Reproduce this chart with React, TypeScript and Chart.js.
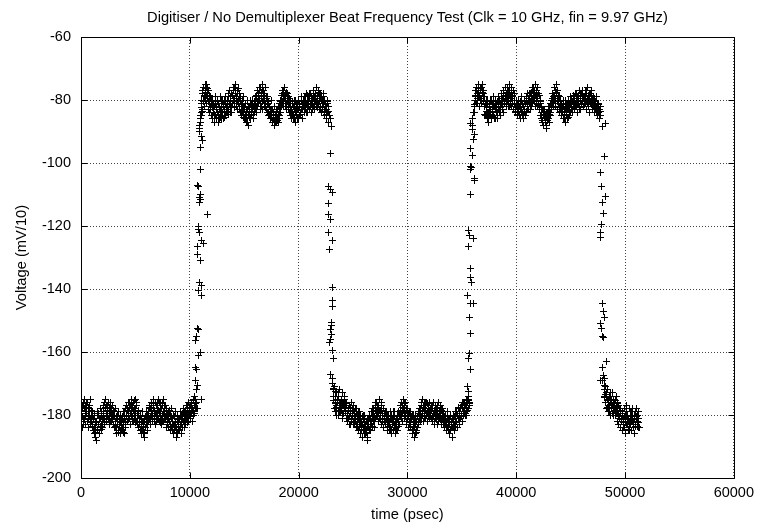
import React, { useEffect, useRef } from "react";
import { Chart, registerables } from "chart.js";

Chart.register(...registerables);

const TITLE = "Digitiser / No Demultiplexer Beat Frequency Test (Clk = 10 GHz, fin = 9.97 GHz)";
const X_LABEL = "time (psec)";
const Y_LABEL = "Voltage (mV/10)";
const X_TICKS = [0, 10000, 20000, 30000, 40000, 50000, 60000];
const Y_TICKS = [-200, -180, -160, -140, -120, -100, -80, -60];

// sample period of each interleaved record (psec); the second record is offset by half a period
const SAMPLE_STEP = 50;
const INTERLEAVE_OFFSET = 25;

// low level, first segment
const LOW_A_START = 0;
const LOW_A = [
  -181, -178.5, -177, -180.5, -183, -176.5, -178, -181.5, -180, -177.5, -176, -179.5,
  -182, -177.5, -179, -180.5, -177, -182.5, -181, -178.5, -180, -183.5,
  -180, -181.5, -184, -179.5, -182, -185.5, -188, -182.5, -180, -184.5, -183, -179.5,
  -186, -183.5, -181, -184.5, -179, -181.5, -182, -179.5,
  -178, -182.5, -181, -177.5, -177, -180.5, -180, -178.5, -176, -181.5, -179, -177.5,
  -182, -179.5, -178, -181.5, -180, -178.5, -183, -180.5,
  -179, -183.5, -182, -180.5, -184, -181.5, -180, -185.5, -183, -181.5, -185, -182.5,
  -181, -184.5, -184, -180.5, -182, -185.5, -179, -182.5, -183, -180.5, -180, -178.5,
  -178, -181.5, -181, -177.5, -176, -179.5, -179, -176.5, -177, -180.5, -182, -178.5,
  -178, -175.5, -180, -182.5, -176, -179.5, -181, -178.5,
  -180, -182.5, -183, -180.5, -185, -183.5, -181, -184.5, -186, -182.5, -182, -185.5,
  -184, -180.5, -179, -182.5, -183, -181.5, -180, -177.5,
  -178, -180.5, -181, -177.5, -176, -179.5, -180, -176.5, -178, -181.5, -182, -179.5,
  -177, -180.5, -179, -176.5, -181, -178.5, -176, -179.5, -180, -182.5, -178, -176.5,
  -182, -179.5, -179, -181.5, -177, -180.5, -181, -178.5, -180, -182.5,
  -179, -181.5, -182, -178.5, -180, -183.5, -184, -180.5, -181, -184.5, -183, -180.5,
  -185, -182.5, -182, -185.5, -184, -181.5, -186, -183.5, -181, -184.5, -183, -180.5,
  -180, -182.5, -184, -181.5, -182, -179.5, -179, -182.5, -181, -178.5,
  -180, -182.5, -177, -179.5, -181, -177.5, -178, -180.5, -180, -177.5, -176, -178.5,
  -179, -175.5, -177, -179.5, -175, -176.5, -178,
];
const LOW_A_MID = [
  -176, -182, -178, -184, -177, -181, -175, -180, -183, -177, -179, -182, -176, -181, -184, -178, -180, -175, -182, -179,
  -183, -179, -185, -181, -186, -180, -184, -187, -182, -179, -185, -183, -180, -186, -181, -184, -178, -183, -180, -184,
  -177, -181, -176, -183, -178, -175, -180, -182, -177, -179, -176, -181, -183, -178, -176, -180, -182, -177, -181, -183,
  -180, -184, -178, -183, -181, -186, -180, -183, -185, -179, -184, -182, -186, -180, -183, -185, -181, -179, -184, -186,
  -181, -178, -184, -180, -177, -182, -179, -176, -181, -178, -183, -177, -175, -180, -178, -182, -176, -179, -181, -175,
  -178, -182, -177, -181, -183, -179, -184, -181, -185, -180, -183, -186, -182, -179, -185, -183, -187, -181, -184, -180,
  -183, -180, -185, -179, -182, -177, -181, -178, -183, -176, -180, -182, -177, -175, -181, -179, -183, -176, -180, -182,
  -177, -181, -175, -179, -182, -178, -176, -181, -183, -177, -180, -175, -182, -179, -177, -181, -184, -178, -180, -183,
  -180, -184, -179, -182, -185, -181, -178, -184, -182, -186, -180, -183, -185, -179, -184, -187, -182, -180, -185, -183,
  -185, -181, -184, -179, -183, -186, -180, -182, -178, -184, -181, -179, -183, -177, -181, -180, -178, -182, -176, -180,
  -181, -177, -179, -176, -182, -178, -175, -180, -177, -174, -178, -176,
];

// high level, first segment
const HIGH_B_START = 11000;
const HIGH_B = [
  -85, -82.5, -81, -83.5, -78, -80.5, -76, -78.5, -80, -77.5, -75, -78.5, -79, -76.5, -77, -80.5, -81, -78.5, -83, -81.5,
  -80, -82.5, -85, -81.5, -82, -84.5, -86, -81.5, -79, -82.5, -84, -80.5, -81, -84.5, -86, -82.5, -83, -85.5,
  -80, -83.5, -85, -80.5, -82, -85.5, -84, -81.5, -80, -83.5, -83, -80.5,
  -82, -84.5, -79, -81.5, -84, -80.5, -78, -82.5, -81, -78.5, -76, -79.5, -80, -82.5, -77, -79.5,
  -82, -80.5, -78, -76.5, -81, -79.5, -83, -80.5,
  -80, -83.5, -84, -81.5, -82, -85.5, -86, -82.5, -81, -84.5, -85, -83.5, -87, -84.5,
  -82, -85.5, -84, -81.5, -80, -83.5, -85, -82.5, -81, -84.5, -83, -80.5,
  -79, -81.5, -82, -78.5, -77, -80.5, -80, -78.5, -76, -79.5, -81, -77.5, -78, -80.5,
  -83, -78.5, -77, -79.5, -80, -82.5, -82, -79.5, -79, -81.5, -84, -80.5,
  -82, -84.5, -86, -83.5, -83, -85.5, -87, -84.5, -84, -86.5, -82, -85.5, -87, -83.5,
  -85, -86.5, -83, -84.5, -86, -82.5, -82, -80.5,
  -80, -78.5, -77, -80.5, -82, -78.5, -76, -80.5, -79, -77.5, -83, -80.5, -78, -82.5, -81, -79.5, -84, -82.5,
  -81, -83.5, -85, -80.5, -82, -84.5, -86, -82.5, -80, -83.5, -84, -81.5, -83, -85.5, -86, -82.5,
  -81, -84.5, -84, -80.5, -80, -82.5, -83, -81.5,
  -82, -80.5, -79, -82.5, -84, -81.5, -80, -78.5, -82, -80.5, -78, -81.5, -81, -79.5, -79, -82.5,
  -83, -79.5, -78, -81.5, -80, -78.5, -82, -80.5, -79, -82.5, -81, -77.5, -78, -80.5, -83, -79.5,
  -80, -82.5, -82, -80.5, -79, -83.5, -84, -81.5, -81, -84.5, -83, -80.5, -80, -83.5, -85,
];
const HIGH_B_MID = [
  -86, -80, -83, -77, -80, -76, -79, -82, -75, -78, -81, -76, -79, -83, -77, -80, -84, -79, -82, -85,
  -81, -86, -80, -84, -87, -82, -79, -85, -83, -86, -80, -84, -81, -87, -83, -79, -85, -82, -86, -80,
  -84, -81, -86, -80, -83, -85, -79, -82, -84, -80, -78, -83, -81, -77, -82, -79, -84, -78, -81, -77,
  -80, -76, -82, -78, -75, -81, -79, -83, -77, -80, -82, -78, -84, -79, -81, -85, -80, -83, -79, -84,
  -82, -86, -81, -84, -87, -83, -80, -85, -88, -82, -84, -86, -81, -85, -83, -80, -86, -82, -84, -81,
  -83, -80, -84, -79, -82, -78, -81, -77, -80, -83, -76, -79, -82, -77, -75, -80, -78, -82, -76, -81,
  -79, -83, -80, -84, -81, -85, -82, -86, -83, -80, -85, -87, -83, -86, -84, -88, -82, -85, -87, -84,
  -86, -83, -87, -82, -85, -81, -84, -80, -82, -78, -81, -77, -80, -76, -79, -82, -78, -81, -83, -79,
  -82, -79, -84, -81, -85, -80, -83, -86, -81, -84, -82, -86, -80, -84, -87, -82, -85, -81, -86, -83,
  -80, -85, -82, -84, -79, -83, -81, -86, -80, -82, -84, -79, -83, -80, -78, -82, -84, -79, -81, -83,
  -79, -82, -78, -81, -84, -80, -77, -82, -79, -83, -78, -80, -76, -82, -79, -81, -77, -83, -80, -78,
  -82, -79, -84, -80, -83, -78, -81, -85, -80, -83, -82, -86, -81, -84, -82, -87,
];

// low level, second segment
const LOW_C_START = 23200;
const LOW_C = [
  -172, -175.5, -178, -176.5, -174, -177.5, -180, -175.5, -176, -178.5, -173, -176.5,
  -179, -177.5, -175, -178.5, -181, -176.5, -177, -179.5, -174, -177.5, -179, -176.5,
  -177, -179.5, -181, -178.5, -178, -180.5, -183, -177.5, -179, -181.5, -176, -179.5,
  -182, -178.5, -180, -182.5, -178, -180.5, -183, -179.5, -181, -183.5, -179, -181.5, -184, -182.5,
  -181, -183.5, -185, -180.5, -183, -184.5, -180, -182.5, -186, -183.5, -182, -185.5,
  -187, -183.5, -184, -181.5, -181, -184.5, -185, -181.5, -182, -183.5, -180, -181.5,
  -178, -180.5, -182, -178.5, -176, -179.5, -180, -177.5, -177, -179.5, -181, -178.5,
  -179, -181.5, -176, -178.5, -182, -179.5, -178, -181.5, -180, -182.5,
  -182, -180.5, -179, -182.5, -184, -180.5, -181, -183.5, -185, -181.5, -180, -184.5,
  -183, -181.5, -179, -182.5, -184, -180.5, -182, -184.5, -185, -181.5, -181, -183.5, -183, -180.5,
  -180, -178.5, -177, -179.5, -181, -177.5, -175, -178.5, -179, -176.5, -176, -180.5,
  -182, -178.5, -178, -181.5, -180, -182.5,
  -179, -181.5, -183, -180.5, -181, -184.5, -185, -182.5, -180, -183.5, -186, -182.5,
  -182, -185.5, -184, -180.5, -179, -182.5, -181, -179.5,
  -178, -180.5, -176, -178.5, -180, -177.5, -177, -179.5, -181, -178.5, -176, -179.5,
  -179, -176.5, -177, -180.5, -180, -178.5,
  -178, -180.5, -181, -178.5, -177, -180.5, -180, -178.5, -182, -179.5, -178, -181.5,
  -180, -177.5, -177, -180.5, -182, -179.5, -179, -181.5, -181, -178.5, -178, -181.5,
  -180, -182.5, -183, -180.5, -181, -183.5, -184, -181.5, -179, -183.5, -185, -181.5,
  -182, -184.5, -180, -182.5, -184, -181.5, -181, -183.5, -183, -180.5, -179, -182.5,
  -182, -179.5, -180, -177.5, -178, -180.5,
  -181, -177.5, -178, -180.5, -180, -177.5, -176, -179.5, -179, -176.5, -177, -179.5,
  -180, -177.5, -175, -178.5, -178, -175.5, -176,
];
const LOW_C_MID = [
  -174, -178, -171, -176, -179, -173, -177, -175, -180, -174, -178, -172, -176, -179, -175, -177, -173, -180, -176, -178,
  -175, -179, -177, -181, -176, -180, -182, -178, -181, -177, -183, -179, -176, -182, -180, -178, -183, -177, -181, -179,
  -182, -178, -184, -180, -183, -181, -185, -179, -183, -186, -180, -184, -182, -187, -181, -184, -180, -185, -183, -186,
  -182, -185, -181, -188, -183, -180, -185, -182, -184, -179, -183, -181, -178, -182, -180, -184, -177, -181, -179, -176,
  -180, -177, -182, -178, -175, -181, -179, -183, -177, -180, -182, -178, -184, -180, -182, -179, -183, -181, -185, -180,
  -183, -180, -185, -182, -179, -184, -181, -186, -182, -180, -185, -183, -179, -184, -186, -181, -183, -185, -180, -182,
  -179, -183, -180, -177, -181, -176, -179, -182, -175, -178, -181, -177, -180, -183, -178, -181, -179, -184, -180, -182,
  -183, -179, -184, -181, -186, -180, -183, -185, -181, -187, -183, -180, -185, -182, -184, -179, -183, -181, -178, -182,
  -180, -177, -181, -175, -179, -182, -176, -178, -181, -177, -180, -176, -179, -182, -178, -180, -176, -181, -179, -177,
  -181, -178, -182, -176, -180, -183, -179, -177, -181, -178, -183, -180, -176, -182, -179, -181, -177, -180, -183, -178,
  -180, -182, -179, -184, -181, -183, -180, -185, -182, -179, -184, -181, -186, -183, -180, -185, -182, -184, -187, -181,
  -183, -180, -185, -181, -184, -179, -182, -180, -184, -178, -181, -183, -179, -181, -177, -180, -182, -178, -180, -176,
  -179, -176, -180, -177, -175, -179, -176, -178, -174, -177,
];

// high level, second segment
const HIGH_D_START = 36150;
const HIGH_D = [
  -84, -81.5, -80, -78.5, -77, -79.5, -81, -77.5, -75, -78.5, -79, -76.5, -76, -79.5, -80, -77.5, -78, -80.5,
  -82, -84.5, -85, -81.5, -80, -83.5, -84, -81.5, -86, -82.5, -81, -84.5, -83, -80.5, -80, -83.5,
  -85, -81.5, -82, -85.5, -86, -82.5, -81, -83.5, -84, -80.5, -80, -82.5, -83, -80.5, -81, -82.5,
  -80, -81.5, -83, -79.5, -78, -80.5, -81, -78.5, -76, -79.5, -80, -77.5, -77, -80.5, -82, -78.5,
  -79, -81.5, -76, -79.5, -81, -78.5, -83, -81.5,
  -80, -83.5, -84, -81.5, -82, -84.5, -85, -82.5, -81, -84.5, -83, -80.5, -80, -83.5, -85, -81.5,
  -82, -84.5, -84, -80.5, -81, -83.5, -79, -81.5, -83, -79.5, -80, -78.5,
  -78, -80.5, -81, -77.5, -76, -79.5, -80, -77.5, -77, -80.5, -82, -78.5, -79, -77.5, -76, -79.5,
  -81, -78.5, -83, -80.5, -80, -82.5,
  -84, -86.5, -87, -84.5, -83, -85.5, -86, -84.5, -88, -85.5, -84, -86.5, -86, -83.5, -82, -84.5, -85, -82.5,
  -81, -79.5, -78, -80.5, -82, -78.5, -76, -79.5, -80, -77.5, -77, -80.5, -81, -78.5, -79, -82.5, -83, -80.5,
  -81, -83.5, -84, -81.5, -82, -84.5, -86, -82.5, -80, -83.5, -85, -81.5, -83, -85.5, -81, -83.5,
  -84, -81.5, -80, -82.5, -83, -80.5,
  -81, -78.5, -79, -81.5, -82, -79.5, -78, -80.5, -81, -78.5, -80, -82.5, -83, -80.5, -78, -81.5,
  -80, -78.5, -82, -79.5, -79, -81.5, -81, -78.5, -77, -80.5, -80, -78.5, -82, -80.5, -78, -80.5,
  -81, -78.5, -79, -81.5, -83, -80.5, -80, -82.5, -82, -80.5, -84, -82.5, -81, -83.5, -83, -81.5,
  -85, -83.5, -82,
];
const HIGH_D_MID = [
  -82, -79, -77, -81, -76, -78, -80, -75, -79, -82, -77, -80, -76, -81, -78, -75, -80, -77, -82, -79,
  -81, -85, -82, -86, -80, -84, -87, -82, -85, -80, -83, -86, -81, -84, -79, -85, -82, -86, -83, -80,
  -84, -81, -86, -82, -79, -84, -80, -83, -85, -81, -78, -82, -80, -84, -77, -81, -79, -76, -82, -78,
  -80, -76, -79, -82, -77, -75, -80, -78, -82, -79, -81, -77, -83, -80, -78, -82, -84, -80, -83, -81,
  -84, -80, -85, -82, -86, -81, -83, -79, -84, -82, -86, -80, -83, -85, -81, -84, -80, -82, -78, -83,
  -81, -79, -83, -78, -80, -82, -77, -81, -79, -76, -80, -78, -75, -81, -77, -79, -82, -78, -81, -83,
  -82, -85, -81, -86, -83, -87, -84, -88, -85, -83, -87, -86, -89, -84, -86, -82, -85, -87, -83, -81,
  -84, -80, -82, -78, -81, -79, -76, -80, -77, -82, -78, -75, -80, -83, -79, -81, -84, -80, -82, -85,
  -81, -84, -82, -86, -80, -85, -83, -87, -81, -84, -82, -86, -80, -83, -85, -81, -84, -79, -83, -81,
  -84, -80, -82, -79, -83, -81, -78, -82, -80, -84, -79, -81, -77, -82, -80, -83, -78, -81, -79, -77,
  -82, -79, -81, -77, -80, -83, -78, -81, -76, -80, -82, -79, -84, -78, -81, -77, -80, -83, -79, -82,
  -80, -84, -81, -83, -79, -85, -82, -84, -81, -86, -83, -85,
];

// low level, last segment
const LOW_E_START = 48100;
const LOW_E = [
  -172, -174.5, -176, -173.5, -174, -177.5, -178, -175.5, -175, -177.5, -179, -175.5,
  -173, -176.5, -177, -179.5, -180, -177.5, -176, -178.5, -178, -175.5, -174, -177.5,
  -179, -176.5, -177, -180.5, -181, -178.5, -178, -181.5,
  -182, -179.5, -179, -182.5, -184, -180.5, -180, -182.5, -177, -180.5, -183, -181.5,
  -181, -184.5, -185, -182.5, -179, -181.5, -182, -180.5, -178, -182.5, -184, -181.5,
  -180, -183.5, -183, -180.5, -181, -183.5, -179, -182.5, -184,
];
const LOW_E_MID = [
  -174, -171, -176, -173, -178, -175, -172, -177, -179, -174, -176, -180, -175, -178, -173, -177, -179, -175, -178, -176,
  -180, -177, -179, -182, -176, -180, -183, -178, -181, -184, -179, -182, -185, -180, -183, -181, -178, -184, -182, -186,
  -179, -183, -180, -185, -182, -178, -184, -181, -183, -179, -185, -182, -180, -184, -181, -186, -179, -183, -181, -178,
  -182, -180, -184, -181,
];

// sparse samples caught on the edges: [time, voltage]
const RISE_1 = [
  [10426, -174], [11039, -175], [10582, -176], [10728, -178], [10518, -169], [10728, -170.5],
  [10582, -172], [10518, -165], [10582, -165.5], [10975, -160], [10820, -161], [10673, -152.5],
  [10820, -153], [10582, -155], [10518, -156.5], [10884, -138], [11039, -139], [10820, -140.5],
  [11039, -142], [10728, -129], [10975, -131], [11039, -124.5], [11250, -125.5], [10728, -126.5],
  [10820, -120], [10884, -122], [10820, -121], [11588, -116.5], [10975, -110], [10884, -111],
  [10948, -111.5], [10884, -112.5], [10728, -107], [10820, -107.5], [10975, -102], [10884, -90],
  [11039, -91.5], [11186, -93], [10948, -95], [10850, -88], [10950, -86], [10900, -89],
  [11050, -84], [11000, -87], [11100, -85], [11150, -83],
];
const FALL_1 = [
  [22929, -97], [22929, -86], [22984, -88.5], [22710, -107.5], [22929, -108.5], [23075, -109.5],
  [22773, -113], [22710, -116.5], [22929, -118], [22773, -122], [23075, -124.5], [22865, -127.5],
  [23075, -139.5], [23139, -143.5], [23139, -145.5], [23020, -150.5], [22984, -151.5], [22929, -153],
  [22984, -154.5], [22929, -156], [22865, -157], [23075, -159.5], [23231, -162], [22929, -167],
  [23075, -168.5], [23139, -170], [23231, -171.5], [23386, -172.5],
];
const RISE_2 = [
  [35825, -102], [36191, -105.5], [35825, -110], [35642, -121.5], [35734, -123], [36035, -124],
  [35642, -126.5], [35825, -133.5], [35825, -136.5], [35880, -138], [35514, -142], [35825, -144.5],
  [36035, -144.5], [35734, -149], [35825, -154], [35734, -160.5], [35642, -162], [35825, -165.5],
  [35514, -171], [35578, -172.5], [35642, -175], [35734, -176.5], [35825, -95.5], [35944, -97.5],
  [35825, -101], [35880, -101.5], [36191, -105], [36035, -92.5], [36127, -91], [35944, -89.5],
  [35825, -87.5], [35950, -86], [36050, -84], [36000, -88],
];
const FALL_2 = [
  [47770, -103], [47834, -107.5], [48172, -110.5], [47925, -112.5], [48017, -116], [47834, -119.5],
  [47714, -122], [47770, -123.5], [47925, -144.5], [48017, -147], [48136, -149], [47714, -151],
  [47834, -152.5], [47925, -155], [48017, -155.5], [48291, -163], [47925, -165], [48017, -167.5],
  [47925, -169], [48136, -168.5], [48227, -87.5], [47925, -88.5], [48081, -98], [47714, -103],
  [47770, -169], [48081, -170.5],
];

const FONT = '"Liberation Sans", Arial, Helvetica, sans-serif';

function levelPoints(start: number, values: number[]) {
  return values.map((v, i) => ({ x: start + i * SAMPLE_STEP, y: v }));
}
function edgePoints(pairs: number[][]) {
  return pairs.map(([t, v]) => ({ x: t, y: v }));
}

function makeCross(): HTMLCanvasElement {
  const c = document.createElement("canvas");
  c.width = 7;
  c.height = 7;
  const g = c.getContext("2d")!;
  g.fillStyle = "#000";
  g.fillRect(0, 3, 7, 1);
  g.fillRect(3, 0, 1, 7);
  return c;
}

const framePlugin = {
  id: "gnuFrame",
  beforeDatasetsDraw(chart: any) {
    chart.ctx.imageSmoothingEnabled = false;
  },
  afterDraw(chart: any) {
    const { ctx, chartArea: a, scales } = chart;
    const l = Math.round(a.left) + 0.5;
    const r = Math.round(a.right) + 0.5;
    const t = Math.round(a.top) + 0.5;
    const b = Math.round(a.bottom) + 0.5;
    ctx.save();
    ctx.strokeStyle = "#000";
    ctx.lineWidth = 1;
    ctx.setLineDash([]);
    ctx.beginPath();
    ctx.rect(l, t, r - l, b - t);
    X_TICKS.forEach((v) => {
      const px = Math.round(scales.x.getPixelForValue(v)) + 0.5;
      ctx.moveTo(px, b);
      ctx.lineTo(px, b - 6);
      ctx.moveTo(px, t);
      ctx.lineTo(px, t + 6);
    });
    Y_TICKS.forEach((v) => {
      const py = Math.round(scales.y.getPixelForValue(v)) + 0.5;
      ctx.moveTo(l, py);
      ctx.lineTo(l + 6, py);
      ctx.moveTo(r, py);
      ctx.lineTo(r - 6, py);
    });
    ctx.stroke();
    ctx.fillStyle = "#000";
    ctx.font = `14.7px ${FONT}`;
    ctx.textAlign = "center";
    ctx.textBaseline = "middle";
    ctx.fillText(TITLE, (a.left + a.right) / 2, 18);
    ctx.restore();
  },
};

export default function App() {
  const ref = useRef<HTMLCanvasElement | null>(null);
  useEffect(() => {
    if (!ref.current) return;
    const points = [
      ...levelPoints(LOW_A_START, LOW_A),
      ...levelPoints(LOW_A_START + INTERLEAVE_OFFSET, LOW_A_MID),
      ...edgePoints(RISE_1),
      ...levelPoints(HIGH_B_START, HIGH_B),
      ...levelPoints(HIGH_B_START + INTERLEAVE_OFFSET, HIGH_B_MID),
      ...edgePoints(FALL_1),
      ...levelPoints(LOW_C_START, LOW_C),
      ...levelPoints(LOW_C_START + INTERLEAVE_OFFSET, LOW_C_MID),
      ...edgePoints(RISE_2),
      ...levelPoints(HIGH_D_START, HIGH_D),
      ...levelPoints(HIGH_D_START + INTERLEAVE_OFFSET, HIGH_D_MID),
      ...edgePoints(FALL_2),
      ...levelPoints(LOW_E_START, LOW_E),
      ...levelPoints(LOW_E_START + INTERLEAVE_OFFSET, LOW_E_MID),
    ];
    const cross = makeCross();
    const grid = {
      color: "#444",
      lineWidth: 1,
      drawTicks: false,
    };
    const chart = new Chart(ref.current, {
      type: "scatter",
      data: {
        datasets: [
          {
            data: points,
            pointStyle: cross,
            pointRadius: 3.5,
            pointHoverRadius: 3.5,
            borderColor: "#000",
            backgroundColor: "#000",
            pointBorderWidth: 1,
            showLine: false,
          },
        ],
      },
      options: {
        animation: false,
        responsive: false,
        events: [],
        layout: { padding: { top: 37, right: 23, left: 0, bottom: 0 } },
        plugins: {
          legend: { display: false },
          title: { display: false },
          tooltip: { enabled: false },
        },
        scales: {
          x: {
            type: "linear",
            min: 0,
            max: 60000,
            afterBuildTicks: (s: any) => {
              s.ticks = X_TICKS.map((v) => ({ value: v }));
            },
            afterFit: (s: any) => {
              s.height = 48;
            },
            grid,
            border: { display: false, dash: [1, 2] },
            ticks: {
              color: "#000",
              padding: 6,
              maxRotation: 0,
              autoSkip: false,
              font: { family: FONT, size: 14.5 },
              callback: (v: any) => String(v),
            },
            title: {
              display: true,
              text: X_LABEL,
              color: "#000",
              font: { family: FONT, size: 14.7 },
              padding: { top: 0, bottom: 2 },
            },
          },
          y: {
            type: "linear",
            min: -200,
            max: -60,
            afterBuildTicks: (s: any) => {
              s.ticks = Y_TICKS.map((v) => ({ value: v }));
            },
            afterFit: (s: any) => {
              s.width = 81;
            },
            grid,
            border: { display: false, dash: [1, 2] },
            ticks: {
              color: "#000",
              padding: 10,
              autoSkip: false,
              font: { family: FONT, size: 14.5 },
              callback: (v: any) => String(v),
            },
            title: {
              display: true,
              text: Y_LABEL,
              color: "#000",
              font: { family: FONT, size: 14.7 },
              padding: { top: 13, bottom: 0 },
            },
          },
        },
      },
      plugins: [framePlugin],
    } as any);
    return () => chart.destroy();
  }, []);
  return (
    <div style={{ position: "fixed", left: 0, top: 0, width: 760, height: 526, background: "#fff" }}>
      <canvas ref={ref} width={760} height={526} style={{ width: 760, height: 526, display: "block" }} />
    </div>
  );
}
